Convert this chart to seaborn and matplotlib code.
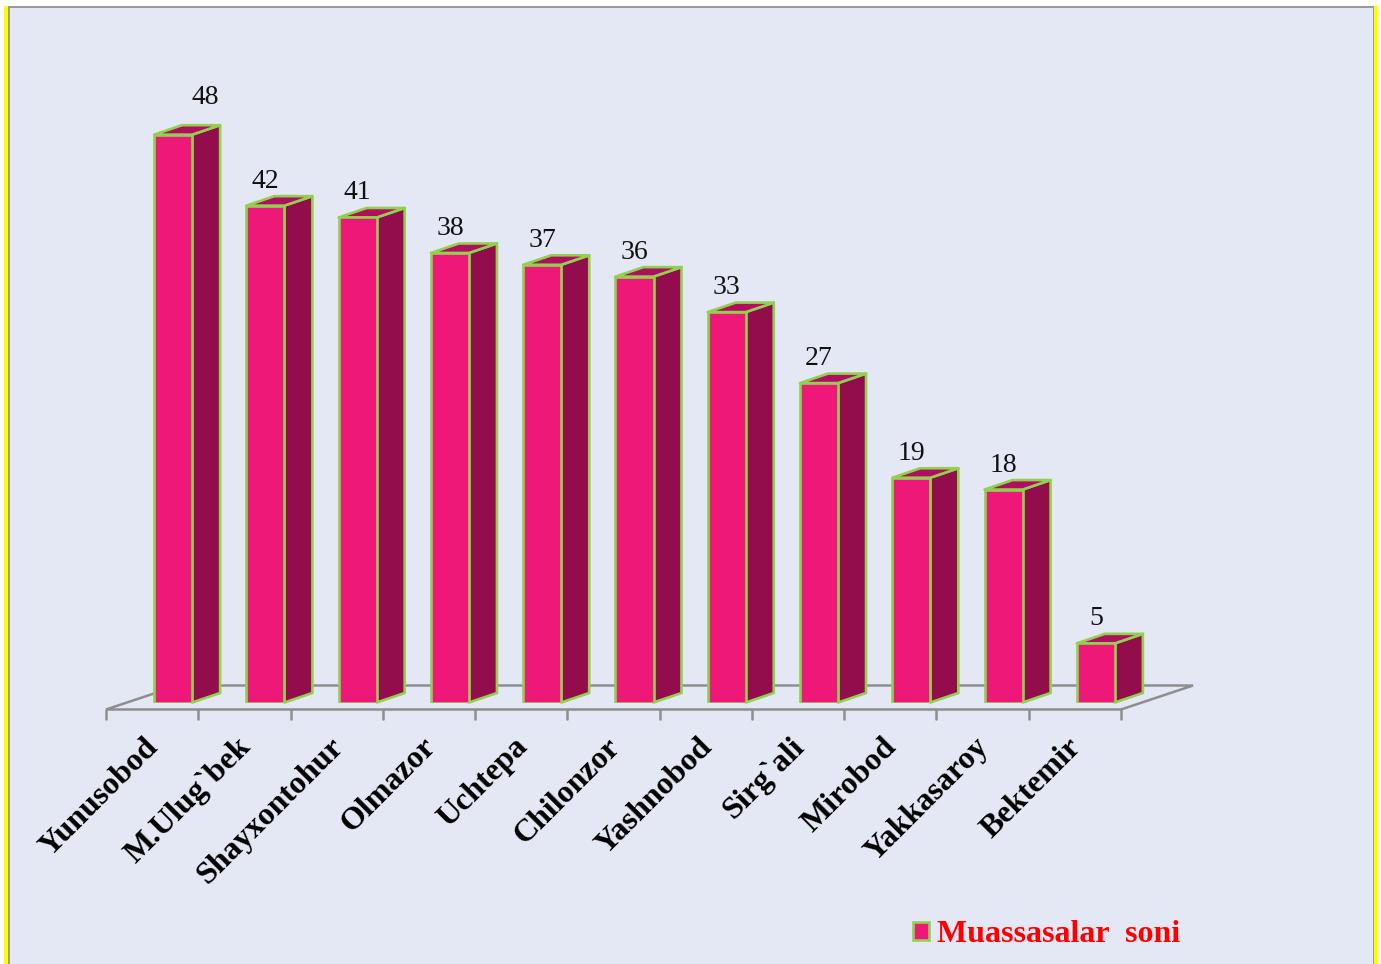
import matplotlib
matplotlib.use("Agg")
import matplotlib.pyplot as plt
import seaborn as sns
from matplotlib.patches import Patch, Polygon, Rectangle
from matplotlib.transforms import ScaledTranslation

# Values
districts = ["Yunusobod", "M.Ulug`bek", "Shayxontohur", "Olmazor", "Uchtepa", "Chilonzor",
             "Yashnobod", "Sirg`ali", "Mirobod", "Yakkasaroy", "Bektemir"]
counts = [48, 42, 41, 38, 37, 36, 33, 27, 19, 18, 5]
series_name = "Muassasalar  soni"

W, H = 1381, 964
FRONT = "#ED1878"
SIDE = "#930D4C"
TOP = "#B00F5F"
EDGE = "#92D050"
BG = "#E4E8F5"
GREY = "#8E8E8E"
EDGE_LW = 1.9

sns.set_theme(style="white")
plt.rcParams["font.family"] = ["Liberation Serif", "DejaVu Serif"]

fig = plt.figure(figsize=(W / 100, H / 100), dpi=100, facecolor="white")


def frame_rect(x0, y0, x1, y1, color):
    # rectangle given in image pixels, y going down
    fig.add_artist(Rectangle((x0 / W, 1 - y1 / H), (x1 - x0) / W, (y1 - y0) / H,
                             transform=fig.transFigure, facecolor=color, edgecolor="none",
                             zorder=-1))


# Slide background with the yellow side stripes
frame_rect(4, 6, 8, H, "#FFFF00")
frame_rect(1374, 6, 1378, H, "#FFFF00")
frame_rect(8, 6, 1374, H, "#9A9A9A")
frame_rect(9.5, 7.5, 1372.5, H, BG)

# Axes sits on the plane of the bar fronts
left, right, base, top = 127, 1142, 702.5, 111
ax = fig.add_axes([left / W, 1 - base / H, (right - left) / W, (base - top) / H])
ax.patch.set_visible(False)

sns.barplot(x=districts, y=counts, ax=ax, color=FRONT, saturation=1, width=38 / 92.27,
            edgecolor=EDGE, linewidth=EDGE_LW, zorder=3)
ax.set_xlim(-0.5, 10.5)
ax.set_ylim(0, 50)
ax.set_xlabel("")
ax.set_ylabel("")
ax.set_yticks([])
sns.despine(ax=ax, left=True, bottom=True)

# pixels to data units
px_x = 11 / (right - left)
px_y = 50 / (base - top)
dx, dy = 28 * px_x, 9.5 * px_y

# 3D side and top faces, taken from the bars seaborn drew
for bar in ax.patches[:len(counts)]:
    x0 = bar.get_x()
    x1 = x0 + bar.get_width()
    h = bar.get_height()
    ax.add_patch(Polygon([(x1, 0), (x1 + dx, dy), (x1 + dx, h + dy), (x1, h)], closed=True,
                         facecolor=SIDE, edgecolor=EDGE, linewidth=EDGE_LW, joinstyle="round",
                         zorder=2, clip_on=False))
    ax.add_patch(Polygon([(x0, h), (x0 + dx, h + dy), (x1 + dx, h + dy), (x1, h)], closed=True,
                         facecolor=TOP, edgecolor=EDGE, linewidth=EDGE_LW, joinstyle="round",
                         zorder=2, clip_on=False))

# Floor of the 3D chart
fl = -21 * px_x - 0.5
fr = 10.5 - 21 * px_x
fy = -7 * px_y
bd_x, bd_y = 72 * px_x, 24 * px_y
ax.plot([fl + bd_x, fl, fr, fr + bd_x, fl + bd_x], [fy + bd_y, fy, fy, fy + bd_y, fy + bd_y],
        color=GREY, lw=1.8, clip_on=False, zorder=1, solid_joinstyle="miter")
for i in range(len(counts) + 1):
    tx = fl + i
    ax.plot([tx, tx], [fy, fy - 9 * px_y], color=GREY, lw=1.8, clip_on=False, zorder=1)

# Category labels
ax.set_xticks(range(len(districts)))
ax.set_xticklabels(districts, rotation=45, ha="right", rotation_mode="anchor",
                   fontsize=23, fontweight="bold", color="black")
ax.tick_params(axis="x", length=0, pad=21.5)
shift = ScaledTranslation(-29 / 100, 0, fig.dpi_scale_trans)
for lab in ax.get_xticklabels():
    lab.set_transform(lab.get_transform() + shift)

# Data labels, the first one sits off to the right of its bar
for i, v in enumerate(counts):
    off_x, off_y = (32, 31) if i == 0 else (0, 18)
    ax.annotate(str(v), (i, v), xytext=(off_x * 0.72, off_y * 0.72), textcoords="offset points",
                ha="center", va="baseline", fontsize=20, color="#111111", zorder=5,
                annotation_clip=False)

# Legend
leg = fig.legend(handles=[Patch(facecolor=FRONT, edgecolor=EDGE, linewidth=EDGE_LW, label=series_name)],
                 loc="center left", bbox_to_anchor=(913 / W, 1 - 935 / H), frameon=False,
                 handlelength=0.5, handleheight=0.5, handletextpad=0.25, borderpad=0, borderaxespad=0,
                 prop={"family": "Liberation Serif", "weight": "bold", "size": 23})
leg.get_texts()[0].set_color("#FF0000")

fig.savefig("out.png", dpi=100)
plt.close(fig)
